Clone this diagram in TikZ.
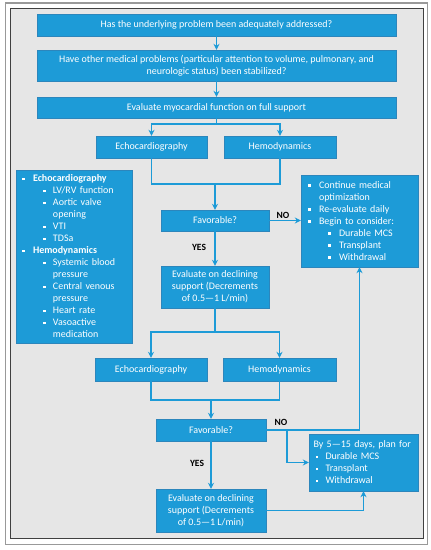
\documentclass[tikz,border=0pt]{standalone}
\usepackage{fontspec}
\setmainfont{Carlito}
\usepackage{xcolor}
\usepackage{tikz}
\usetikzlibrary{arrows.meta}

\definecolor{boxblue}{HTML}{1D9BD7}
\definecolor{boxedge}{HTML}{2C86BC}
\definecolor{panel}{HTML}{E6E6E6}

% square bullets for the list boxes
\newcommand{\sqb}{\rule[1.8pt]{2.6pt}{2.6pt}}
\newcommand{\itA}[1]{\makebox[11pt][l]{\sqb}#1}
\newcommand{\itB}[1]{\hspace*{21pt}\makebox[10pt][l]{\sqb}#1}
\newcommand{\conA}[1]{\hspace*{11pt}#1}
\newcommand{\conB}[1]{\hspace*{31pt}#1}

\begin{document}
\begin{tikzpicture}[x=1pt, y=-1pt, >={Stealth[length=6pt,width=6pt]},
    stepbox/.style={rectangle, draw=boxedge, fill=boxblue, text=white,
      font=\fontsize{10}{12}\selectfont, align=center, inner sep=0pt},
    listbox/.style={rectangle, draw=boxedge, fill=boxblue, text=white,
      font=\fontsize{10}{12}\selectfont, align=left, inner ysep=0pt},
    flow/.style={draw=boxblue, line width=1.3pt},
    answer/.style={font=\fontsize{9.5}{11}\selectfont\bfseries, text=black}]

  \useasboundingbox (0,0) rectangle (431,550);
  \draw[gray!80, line width=1.5pt, fill=white] (5.5,3) rectangle (427.5,544.5);
  \draw[black!75, line width=0.8pt, fill=panel] (10,8) rectangle (423,538.5);

  % main column
  \node[stepbox, minimum width=359, minimum height=22] (problem) at (216.5,25)
    {Has the underlying problem been adequately addressed?};
  \node[stepbox, minimum width=359, minimum height=31] (other) at (216.5,65.5)
    {Have other medical problems (particular attention to volume, pulmonary, and\\neurologic status) been stabilized?};
  \node[stepbox, minimum width=359, minimum height=21] (myo) at (216.5,107.5)
    {Evaluate myocardial function on full support};

  \node[stepbox, minimum width=111, minimum height=22] (echoA) at (151.5,147) {Echocardiography};
  \node[stepbox, minimum width=112, minimum height=22] (hemoA) at (280,147) {Hemodynamics};
  \node[stepbox, minimum width=108, minimum height=21] (favA) at (215,220.5) {Favorable?};
  \node[stepbox, minimum width=108, minimum height=42] (evalA) at (215,287)
    {Evaluate on declining\\support (Decrements\\of 0.5—1 L/min)};

  \node[stepbox, minimum width=112, minimum height=23] (echoB) at (151,369.5) {Echocardiography};
  \node[stepbox, minimum width=113, minimum height=23] (hemoB) at (279.5,369.5) {Hemodynamics};
  \node[stepbox, minimum width=110, minimum height=22] (favB) at (211,430) {Favorable?};
  \node[stepbox, minimum width=110, minimum height=43] (evalB) at (211,510.5)
    {Evaluate on declining\\support (Decrements\\of 0.5—1 L/min)};

  % side boxes
  \node[listbox, minimum height=173, text width=104, inner xsep=6pt] (measures) at (74,256.5)
    {\itA{\textbf{Echocardiography}}\\
     \itB{LV/RV function}\\
     \itB{Aortic valve}\\
     \conB{opening}\\
     \itB{VTI}\\
     \itB{TDSa}\\
     \itA{\textbf{Hemodynamics}}\\
     \itB{Systemic blood}\\
     \conB{pressure}\\
     \itB{Central venous}\\
     \conB{pressure}\\
     \itB{Heart rate}\\
     \itB{Vasoactive}\\
     \conB{medication}};
  \node[listbox, minimum height=92, text width=103, inner xsep=7pt] (continue) at (359.5,221)
    {\itA{Continue medical}\\
     \conA{optimization}\\
     \itA{Re-evaluate daily}\\
     \itA{Begin to consider:}\\
     \hspace*{20pt}\makebox[11pt][l]{\sqb}Durable MCS\\
     \hspace*{20pt}\makebox[11pt][l]{\sqb}Transplant\\
     \hspace*{20pt}\makebox[11pt][l]{\sqb}Withdrawal};
  \node[listbox, minimum height=57, text width=100, inner xsep=4.5pt] (plan) at (363.5,462.5)
    {By 5—15 days, plan for\\
     \hspace*{2pt}\makebox[10pt][l]{\sqb}Durable MCS\\
     \hspace*{2pt}\makebox[10pt][l]{\sqb}Transplant\\
     \hspace*{2pt}\makebox[10pt][l]{\sqb}Withdrawal};

  % junctions
  \coordinate (splitA) at (216.5,124);
  \coordinate (joinA) at (215,184);
  \coordinate (splitB) at (215,332);
  \coordinate (joinB) at (211,400);
  \coordinate (forkB) at (287,430);

  \draw[flow, ->] (problem) -- (other);
  \draw[flow, ->] (other) -- (myo);
  \draw[flow] (myo.south) -- (splitA);
  \draw[flow, ->] (splitA) -| (echoA.north);
  \draw[flow, ->] (splitA) -| (hemoA.north);
  \draw[flow] (echoA.south) |- (joinA);
  \draw[flow] (hemoA.south) |- (joinA);
  \draw[flow, ->] (joinA) -- (favA.north);
  \draw[flow, ->] (favA.east) -- (favA.east -| continue.west);
  \draw[flow, ->] (favA.south) -- (evalA.north);

  \draw[flow] (evalA.south) -- (splitB);
  \draw[flow, ->] (splitB) -| (echoB.north);
  \draw[flow, ->] (splitB) -| (hemoB.north);
  \draw[flow] (echoB.south) |- (joinB);
  \draw[flow] (hemoB.south) |- (joinB);
  \draw[flow, ->] (joinB) -- (favB.north);
  \draw[flow, ->] (favB.east) -| (continue.south);
  \draw[flow, ->] (forkB) |- (plan.west);
  \draw[flow, ->] (favB.south) -- (evalB.north);
  \draw[flow, ->] (evalB.east) -| (plan.south);

  \node[answer] (noA) at (283,215) {NO};
  \node[answer] (yesA) at (199,247) {YES};
  \node[answer] (noB) at (281,422) {NO};
  \node[answer] (yesB) at (197,463) {YES};
\end{tikzpicture}
\end{document}
